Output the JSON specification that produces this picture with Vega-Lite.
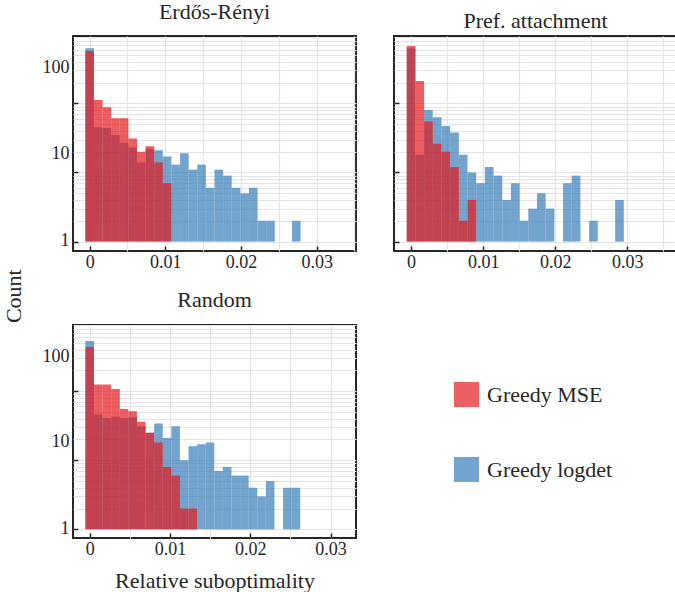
{
  "$schema": "https://vega.github.io/schema/vega-lite/v6.json",
  "background": "white",
  "padding": {"left": 3, "top": 0, "right": 0, "bottom": 0},
  "title": {"text": "Count", "orient": "left", "anchor": "middle", "offset": 15},
  "data": {"values": [
    {"graph": "Erdős-Rényi", "method": "Greedy logdet", "bin_start": -0.000569, "bin_end": 0.000569, "count": 627},
    {"graph": "Erdős-Rényi", "method": "Greedy logdet", "bin_start": 0.000569, "bin_end": 0.001707, "count": 45},
    {"graph": "Erdős-Rényi", "method": "Greedy logdet", "bin_start": 0.001707, "bin_end": 0.002845, "count": 44},
    {"graph": "Erdős-Rényi", "method": "Greedy logdet", "bin_start": 0.002845, "bin_end": 0.003983, "count": 35},
    {"graph": "Erdős-Rényi", "method": "Greedy logdet", "bin_start": 0.003983, "bin_end": 0.005121, "count": 27},
    {"graph": "Erdős-Rényi", "method": "Greedy logdet", "bin_start": 0.005121, "bin_end": 0.006259, "count": 23},
    {"graph": "Erdős-Rényi", "method": "Greedy logdet", "bin_start": 0.006259, "bin_end": 0.007397, "count": 14},
    {"graph": "Erdős-Rényi", "method": "Greedy logdet", "bin_start": 0.007397, "bin_end": 0.008535, "count": 22},
    {"graph": "Erdős-Rényi", "method": "Greedy logdet", "bin_start": 0.008535, "bin_end": 0.009673, "count": 21},
    {"graph": "Erdős-Rényi", "method": "Greedy logdet", "bin_start": 0.009673, "bin_end": 0.010811, "count": 17},
    {"graph": "Erdős-Rényi", "method": "Greedy logdet", "bin_start": 0.010811, "bin_end": 0.011949, "count": 13},
    {"graph": "Erdős-Rényi", "method": "Greedy logdet", "bin_start": 0.011949, "bin_end": 0.013087, "count": 19},
    {"graph": "Erdős-Rényi", "method": "Greedy logdet", "bin_start": 0.013087, "bin_end": 0.014225, "count": 11},
    {"graph": "Erdős-Rényi", "method": "Greedy logdet", "bin_start": 0.014225, "bin_end": 0.015363, "count": 13},
    {"graph": "Erdős-Rényi", "method": "Greedy logdet", "bin_start": 0.015363, "bin_end": 0.016501, "count": 6},
    {"graph": "Erdős-Rényi", "method": "Greedy logdet", "bin_start": 0.016501, "bin_end": 0.017639, "count": 11},
    {"graph": "Erdős-Rényi", "method": "Greedy logdet", "bin_start": 0.017639, "bin_end": 0.018777, "count": 9},
    {"graph": "Erdős-Rényi", "method": "Greedy logdet", "bin_start": 0.018777, "bin_end": 0.019915, "count": 6},
    {"graph": "Erdős-Rényi", "method": "Greedy logdet", "bin_start": 0.019915, "bin_end": 0.021053, "count": 5},
    {"graph": "Erdős-Rényi", "method": "Greedy logdet", "bin_start": 0.021053, "bin_end": 0.022191, "count": 6},
    {"graph": "Erdős-Rényi", "method": "Greedy logdet", "bin_start": 0.022191, "bin_end": 0.023329, "count": 2},
    {"graph": "Erdős-Rényi", "method": "Greedy logdet", "bin_start": 0.023329, "bin_end": 0.024467, "count": 2},
    {"graph": "Erdős-Rényi", "method": "Greedy logdet", "bin_start": 0.026743, "bin_end": 0.027881, "count": 2},
    {"graph": "Pref. attachment", "method": "Greedy logdet", "bin_start": -0.0006025, "bin_end": 0.0006025, "count": 627},
    {"graph": "Pref. attachment", "method": "Greedy logdet", "bin_start": 0.0006025, "bin_end": 0.0018075, "count": 18},
    {"graph": "Pref. attachment", "method": "Greedy logdet", "bin_start": 0.0018075, "bin_end": 0.0030125, "count": 80},
    {"graph": "Pref. attachment", "method": "Greedy logdet", "bin_start": 0.0030125, "bin_end": 0.0042175, "count": 63},
    {"graph": "Pref. attachment", "method": "Greedy logdet", "bin_start": 0.0042175, "bin_end": 0.0054225, "count": 47},
    {"graph": "Pref. attachment", "method": "Greedy logdet", "bin_start": 0.0054225, "bin_end": 0.0066275, "count": 38},
    {"graph": "Pref. attachment", "method": "Greedy logdet", "bin_start": 0.0066275, "bin_end": 0.0078325, "count": 18},
    {"graph": "Pref. attachment", "method": "Greedy logdet", "bin_start": 0.0078325, "bin_end": 0.0090375, "count": 10},
    {"graph": "Pref. attachment", "method": "Greedy logdet", "bin_start": 0.0090375, "bin_end": 0.0102425, "count": 7},
    {"graph": "Pref. attachment", "method": "Greedy logdet", "bin_start": 0.0102425, "bin_end": 0.0114475, "count": 12},
    {"graph": "Pref. attachment", "method": "Greedy logdet", "bin_start": 0.0114475, "bin_end": 0.0126525, "count": 9},
    {"graph": "Pref. attachment", "method": "Greedy logdet", "bin_start": 0.0126525, "bin_end": 0.0138575, "count": 4},
    {"graph": "Pref. attachment", "method": "Greedy logdet", "bin_start": 0.0138575, "bin_end": 0.0150625, "count": 7},
    {"graph": "Pref. attachment", "method": "Greedy logdet", "bin_start": 0.0150625, "bin_end": 0.0162675, "count": 2},
    {"graph": "Pref. attachment", "method": "Greedy logdet", "bin_start": 0.0162675, "bin_end": 0.0174725, "count": 3},
    {"graph": "Pref. attachment", "method": "Greedy logdet", "bin_start": 0.0174725, "bin_end": 0.0186775, "count": 5},
    {"graph": "Pref. attachment", "method": "Greedy logdet", "bin_start": 0.0186775, "bin_end": 0.0198825, "count": 3},
    {"graph": "Pref. attachment", "method": "Greedy logdet", "bin_start": 0.0210875, "bin_end": 0.0222925, "count": 7},
    {"graph": "Pref. attachment", "method": "Greedy logdet", "bin_start": 0.0222925, "bin_end": 0.0234975, "count": 9},
    {"graph": "Pref. attachment", "method": "Greedy logdet", "bin_start": 0.0247025, "bin_end": 0.0259075, "count": 2},
    {"graph": "Pref. attachment", "method": "Greedy logdet", "bin_start": 0.0283175, "bin_end": 0.0295225, "count": 4},
    {"graph": "Random", "method": "Greedy logdet", "bin_start": -0.000535, "bin_end": 0.000535, "count": 531},
    {"graph": "Random", "method": "Greedy logdet", "bin_start": 0.000535, "bin_end": 0.001605, "count": 46},
    {"graph": "Random", "method": "Greedy logdet", "bin_start": 0.001605, "bin_end": 0.002675, "count": 41},
    {"graph": "Random", "method": "Greedy logdet", "bin_start": 0.002675, "bin_end": 0.003745, "count": 43},
    {"graph": "Random", "method": "Greedy logdet", "bin_start": 0.003745, "bin_end": 0.004815, "count": 41},
    {"graph": "Random", "method": "Greedy logdet", "bin_start": 0.004815, "bin_end": 0.005885, "count": 42},
    {"graph": "Random", "method": "Greedy logdet", "bin_start": 0.005885, "bin_end": 0.006955, "count": 31},
    {"graph": "Random", "method": "Greedy logdet", "bin_start": 0.006955, "bin_end": 0.008025, "count": 25},
    {"graph": "Random", "method": "Greedy logdet", "bin_start": 0.008025, "bin_end": 0.009095, "count": 34},
    {"graph": "Random", "method": "Greedy logdet", "bin_start": 0.009095, "bin_end": 0.010165, "count": 21},
    {"graph": "Random", "method": "Greedy logdet", "bin_start": 0.010165, "bin_end": 0.011235, "count": 31},
    {"graph": "Random", "method": "Greedy logdet", "bin_start": 0.011235, "bin_end": 0.012305, "count": 10},
    {"graph": "Random", "method": "Greedy logdet", "bin_start": 0.012305, "bin_end": 0.013375, "count": 16},
    {"graph": "Random", "method": "Greedy logdet", "bin_start": 0.013375, "bin_end": 0.014445, "count": 17},
    {"graph": "Random", "method": "Greedy logdet", "bin_start": 0.014445, "bin_end": 0.015515, "count": 18},
    {"graph": "Random", "method": "Greedy logdet", "bin_start": 0.015515, "bin_end": 0.016585, "count": 7},
    {"graph": "Random", "method": "Greedy logdet", "bin_start": 0.016585, "bin_end": 0.017655, "count": 8},
    {"graph": "Random", "method": "Greedy logdet", "bin_start": 0.017655, "bin_end": 0.018725, "count": 6},
    {"graph": "Random", "method": "Greedy logdet", "bin_start": 0.018725, "bin_end": 0.019795, "count": 6},
    {"graph": "Random", "method": "Greedy logdet", "bin_start": 0.019795, "bin_end": 0.020865, "count": 4},
    {"graph": "Random", "method": "Greedy logdet", "bin_start": 0.020865, "bin_end": 0.021935, "count": 3},
    {"graph": "Random", "method": "Greedy logdet", "bin_start": 0.021935, "bin_end": 0.023005, "count": 5},
    {"graph": "Random", "method": "Greedy logdet", "bin_start": 0.024075, "bin_end": 0.025145, "count": 4},
    {"graph": "Random", "method": "Greedy logdet", "bin_start": 0.025145, "bin_end": 0.026215, "count": 4},
    {"graph": "Erdős-Rényi", "method": "Greedy MSE", "bin_start": -0.000569, "bin_end": 0.000569, "count": 573},
    {"graph": "Erdős-Rényi", "method": "Greedy MSE", "bin_start": 0.000569, "bin_end": 0.001707, "count": 112},
    {"graph": "Erdős-Rényi", "method": "Greedy MSE", "bin_start": 0.001707, "bin_end": 0.002845, "count": 88},
    {"graph": "Erdős-Rényi", "method": "Greedy MSE", "bin_start": 0.002845, "bin_end": 0.003983, "count": 61},
    {"graph": "Erdős-Rényi", "method": "Greedy MSE", "bin_start": 0.003983, "bin_end": 0.005121, "count": 61},
    {"graph": "Erdős-Rényi", "method": "Greedy MSE", "bin_start": 0.005121, "bin_end": 0.006259, "count": 31},
    {"graph": "Erdős-Rényi", "method": "Greedy MSE", "bin_start": 0.006259, "bin_end": 0.007397, "count": 20},
    {"graph": "Erdős-Rényi", "method": "Greedy MSE", "bin_start": 0.007397, "bin_end": 0.008535, "count": 24},
    {"graph": "Erdős-Rényi", "method": "Greedy MSE", "bin_start": 0.008535, "bin_end": 0.009673, "count": 14},
    {"graph": "Erdős-Rényi", "method": "Greedy MSE", "bin_start": 0.009673, "bin_end": 0.010811, "count": 7},
    {"graph": "Pref. attachment", "method": "Greedy MSE", "bin_start": -0.0006025, "bin_end": 0.0006025, "count": 678},
    {"graph": "Pref. attachment", "method": "Greedy MSE", "bin_start": 0.0006025, "bin_end": 0.0018075, "count": 211},
    {"graph": "Pref. attachment", "method": "Greedy MSE", "bin_start": 0.0018075, "bin_end": 0.0030125, "count": 55},
    {"graph": "Pref. attachment", "method": "Greedy MSE", "bin_start": 0.0030125, "bin_end": 0.0042175, "count": 26},
    {"graph": "Pref. attachment", "method": "Greedy MSE", "bin_start": 0.0042175, "bin_end": 0.0054225, "count": 20},
    {"graph": "Pref. attachment", "method": "Greedy MSE", "bin_start": 0.0054225, "bin_end": 0.0066275, "count": 12},
    {"graph": "Pref. attachment", "method": "Greedy MSE", "bin_start": 0.0066275, "bin_end": 0.0078325, "count": 2},
    {"graph": "Pref. attachment", "method": "Greedy MSE", "bin_start": 0.0078325, "bin_end": 0.0090375, "count": 4},
    {"graph": "Random", "method": "Greedy MSE", "bin_start": -0.000535, "bin_end": 0.000535, "count": 434},
    {"graph": "Random", "method": "Greedy MSE", "bin_start": 0.000535, "bin_end": 0.001605, "count": 125},
    {"graph": "Random", "method": "Greedy MSE", "bin_start": 0.001605, "bin_end": 0.002675, "count": 125},
    {"graph": "Random", "method": "Greedy MSE", "bin_start": 0.002675, "bin_end": 0.003745, "count": 107},
    {"graph": "Random", "method": "Greedy MSE", "bin_start": 0.003745, "bin_end": 0.004815, "count": 55},
    {"graph": "Random", "method": "Greedy MSE", "bin_start": 0.004815, "bin_end": 0.005885, "count": 51},
    {"graph": "Random", "method": "Greedy MSE", "bin_start": 0.005885, "bin_end": 0.006955, "count": 36},
    {"graph": "Random", "method": "Greedy MSE", "bin_start": 0.006955, "bin_end": 0.008025, "count": 25},
    {"graph": "Random", "method": "Greedy MSE", "bin_start": 0.008025, "bin_end": 0.009095, "count": 18},
    {"graph": "Random", "method": "Greedy MSE", "bin_start": 0.009095, "bin_end": 0.010165, "count": 8},
    {"graph": "Random", "method": "Greedy MSE", "bin_start": 0.010165, "bin_end": 0.011235, "count": 6},
    {"graph": "Random", "method": "Greedy MSE", "bin_start": 0.011235, "bin_end": 0.012305, "count": 2},
    {"graph": "Random", "method": "Greedy MSE", "bin_start": 0.012305, "bin_end": 0.013375, "count": 2}
  ]},
  "columns": 2,
  "bounds": "flush",
  "spacing": {"row": 74, "column": 38},
  "resolve": {"scale": {"color": "shared"}, "legend": {"color": "shared"}},
  "concat": [
    {
      "width": 283, "height": 215,
      "title": "Erdős-Rényi",
      "transform": [{"filter": "datum.graph == 'Erdős-Rényi'"}],
      "mark": {"type": "bar", "opacity": 0.7},
      "encoding": {
        "x": {"field": "bin_start", "type": "quantitative",
          "scale": {"domain": [-0.0022, 0.0352], "nice": false, "zero": false},
          "axis": {"title": null, "values": [0, 0.005, 0.01, 0.015, 0.02, 0.025, 0.03, 0.035],
            "tickSize": -5,
            "tickOpacity": {"condition": {"test": "abs(datum.value*100 - round(datum.value*100)) < 0.000001", "value": 1}, "value": 0},
            "labelExpr": "abs(datum.value*100 - round(datum.value*100)) < 0.000001 ? (datum.value == 0 ? '0' : format(datum.value, '.2f')) : ''",
            "labelPadding": 7}},
        "x2": {"field": "bin_end"},
        "y": {"field": "count", "type": "quantitative", "stack": null,
          "scale": {"type": "log", "domain": [0.73, 945], "nice": false},
          "axis": {"title": null, "values": [1,2,3,4,5,6,7,8,9,10,20,30,40,50,60,70,80,90,100,200,300,400,500,600,700,800,900],
            "tickSize": -5,
            "tickOpacity": {"condition": {"test": "datum.value == 1 || datum.value == 10 || datum.value == 100", "value": 1}, "value": 0},
            "labelExpr": "datum.value == 1 ? '1' : datum.value == 10 ? '10' : datum.value == 100 ? '100' : ''",
            "labelOffset": {"condition": [{"test": "datum.value == 10", "value": -19}, {"test": "datum.value == 100", "value": -36}], "value": -1},
            "labelPadding": 9}},
        "y2": {"datum": 1},
        "color": {"field": "method", "type": "nominal",
          "scale": {"domain": ["Greedy MSE", "Greedy logdet"], "range": ["#e41a1c", "#377eb8"]},
          "legend": {"title": null}}
      }
    },
    {
      "width": 283, "height": 215,
      "title": "Pref. attachment",
      "transform": [{"filter": "datum.graph == 'Pref. attachment'"}],
      "mark": {"type": "bar", "opacity": 0.7},
      "encoding": {
        "x": {"field": "bin_start", "type": "quantitative",
          "scale": {"domain": [-0.00237, 0.0369], "nice": false, "zero": false},
          "axis": {"title": null, "values": [0, 0.005, 0.01, 0.015, 0.02, 0.025, 0.03, 0.035],
            "tickSize": -5,
            "tickOpacity": {"condition": {"test": "abs(datum.value*100 - round(datum.value*100)) < 0.000001", "value": 1}, "value": 0},
            "labelExpr": "abs(datum.value*100 - round(datum.value*100)) < 0.000001 ? (datum.value == 0 ? '0' : format(datum.value, '.2f')) : ''",
            "labelPadding": 7}},
        "x2": {"field": "bin_end"},
        "y": {"field": "count", "type": "quantitative", "stack": null,
          "scale": {"type": "log", "domain": [0.73, 945], "nice": false},
          "axis": {"title": null, "values": [1,2,3,4,5,6,7,8,9,10,20,30,40,50,60,70,80,90,100,200,300,400,500,600,700,800,900],
            "tickSize": -5,
            "tickOpacity": {"condition": {"test": "datum.value == 1 || datum.value == 10 || datum.value == 100", "value": 1}, "value": 0},
            "labels": false}},
        "y2": {"datum": 1},
        "color": {"field": "method", "type": "nominal",
          "scale": {"domain": ["Greedy MSE", "Greedy logdet"], "range": ["#e41a1c", "#377eb8"]},
          "legend": {"title": null}}
      }
    },
    {
      "width": 283, "height": 213,
      "title": "Random",
      "transform": [{"filter": "datum.graph == 'Random'"}],
      "mark": {"type": "bar", "opacity": 0.7},
      "encoding": {
        "x": {"field": "bin_start", "type": "quantitative",
          "scale": {"domain": [-0.00208, 0.03316], "nice": false, "zero": false},
          "axis": {"title": "Relative suboptimality", "values": [0, 0.005, 0.01, 0.015, 0.02, 0.025, 0.03],
            "tickSize": -5,
            "tickOpacity": {"condition": {"test": "abs(datum.value*100 - round(datum.value*100)) < 0.000001", "value": 1}, "value": 0},
            "labelExpr": "abs(datum.value*100 - round(datum.value*100)) < 0.000001 ? (datum.value == 0 ? '0' : format(datum.value, '.2f')) : ''",
            "labelPadding": 7, "titlePadding": 12}},
        "x2": {"field": "bin_end"},
        "y": {"field": "count", "type": "quantitative", "stack": null,
          "scale": {"type": "log", "domain": [0.75, 905], "nice": false},
          "axis": {"title": null, "values": [1,2,3,4,5,6,7,8,9,10,20,30,40,50,60,70,80,90,100,200,300,400,500,600,700,800,900],
            "tickSize": -5,
            "tickOpacity": {"condition": {"test": "datum.value == 1 || datum.value == 10 || datum.value == 100", "value": 1}, "value": 0},
            "labelExpr": "datum.value == 1 ? '1' : datum.value == 10 ? '10' : datum.value == 100 ? '100' : ''",
            "labelOffset": {"condition": [{"test": "datum.value == 10", "value": -19}, {"test": "datum.value == 100", "value": -35}], "value": -1},
            "labelPadding": 9}},
        "y2": {"datum": 1},
        "color": {"field": "method", "type": "nominal",
          "scale": {"domain": ["Greedy MSE", "Greedy logdet"], "range": ["#e41a1c", "#377eb8"]},
          "legend": {"title": null}}
      }
    }
  ],
  "config": {
    "font": "Liberation Serif",
    "view": {"stroke": "#262626", "strokeWidth": 2},
    "axis": {"domain": false, "grid": true, "gridColor": "#e4e4e4", "gridWidth": 1.2,
      "labelFont": "Liberation Serif", "labelFontSize": 18, "labelColor": "#262626",
      "titleFont": "Liberation Serif", "titleFontSize": 22, "titleFontWeight": "normal", "titleColor": "#262626",
      "tickColor": "#262626", "tickWidth": 1.5, "labelOverlap": false, "labelFlush": false},
    "title": {"font": "Liberation Serif", "fontSize": 22, "fontWeight": "normal", "color": "#262626", "offset": 3},
    "legend": {"orient": "none", "legendX": 381, "legendY": 346, "symbolType": "square", "symbolSize": 625,
      "symbolStrokeWidth": 0, "symbolOpacity": 0.7, "labelFont": "Liberation Serif", "labelFontSize": 22,
      "labelColor": "#262626", "rowPadding": 50, "labelOffset": 8}
  }
}
